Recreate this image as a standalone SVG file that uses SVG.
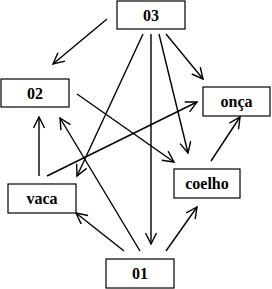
<svg xmlns="http://www.w3.org/2000/svg" width="272" height="289" viewBox="0 0 272 289">
<style>
.box{fill:#fff;stroke:#000;stroke-width:1.2}
.lbl{font-family:"Liberation Serif","Times New Roman",serif;font-weight:bold;font-size:16px;text-anchor:middle;fill:#000}
.c{stroke:#000;stroke-width:1.4;fill:none;marker-end:url(#ah)}
</style>
<defs>
<marker id="ah" markerUnits="userSpaceOnUse" markerWidth="14" markerHeight="14" refX="12" refY="6" orient="auto">
<path d="M1,0.5 L12,6 L1,11.5" fill="none" stroke="#000" stroke-width="1.4"/>
</marker>
</defs>
<rect width="272" height="289" fill="#fff"/>
<g id="connectors">
<line class="c" x1="107" y1="19" x2="53" y2="64"/>
<line class="c" x1="166" y1="34" x2="203" y2="79"/>
<line class="c" x1="143" y1="34" x2="77" y2="176"/>
<line class="c" x1="151" y1="34" x2="151" y2="244"/>
<line class="c" x1="159" y1="34" x2="188" y2="153"/>
<line class="c" x1="77" y1="94" x2="174" y2="162"/>
<line class="c" x1="39" y1="176" x2="39" y2="117"/>
<line class="c" x1="47" y1="176" x2="197" y2="102"/>
<line class="c" x1="140" y1="251" x2="60" y2="118"/>
<line class="c" x1="124" y1="251" x2="76" y2="213"/>
<line class="c" x1="166" y1="251" x2="197" y2="207"/>
<line class="c" x1="211" y1="161" x2="240" y2="117"/>
</g>
<g id="n03"><rect class="box" x="117" y="1" width="68" height="28"/><text class="lbl" x="151" y="21">03</text></g>
<g id="n02"><rect class="box" x="1" y="79" width="68" height="28"/><text class="lbl" x="35" y="99">02</text></g>
<g id="nonca"><rect class="box" x="203" y="87" width="67" height="29"/><text class="lbl" x="236.5" y="107">onça</text></g>
<g id="ncoelho"><rect class="box" x="174" y="169" width="66" height="29"/><text class="lbl" x="207" y="189">coelho</text></g>
<g id="nvaca"><rect class="box" x="8" y="184" width="68" height="29"/><text class="lbl" x="42" y="204">vaca</text></g>
<g id="n01"><rect class="box" x="106" y="259" width="68" height="29"/><text class="lbl" x="140" y="279">01</text></g>
</svg>
